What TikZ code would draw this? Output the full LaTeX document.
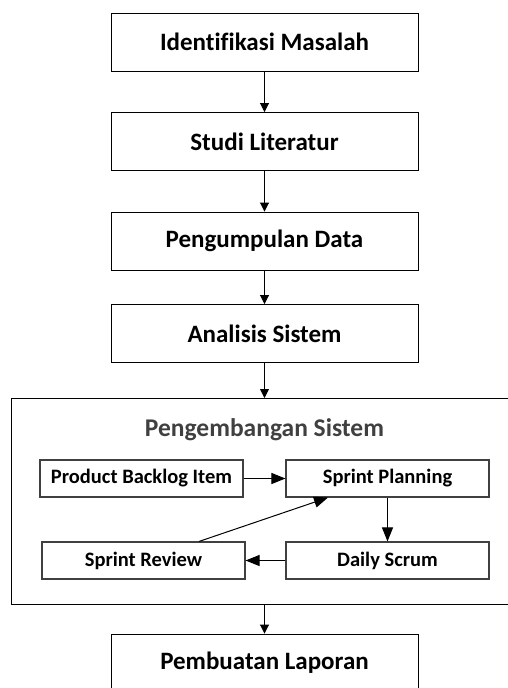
\documentclass[tikz,border=0pt]{standalone}
\usepackage{fontspec}
\setmainfont{Carlito}[Ligatures=NoCommon]
\usetikzlibrary{arrows.meta}
\begin{document}
\begin{tikzpicture}[x=1pt,y=-1pt,
  mainbox/.style={draw=black,line width=0.9pt,minimum width=307pt,minimum height=58pt,inner sep=0pt,font=\fontsize{25}{27}\selectfont\bfseries},
  subbox/.style={draw=black!75,line width=1.1pt,minimum width=203pt,minimum height=37pt,inner sep=0pt,font=\fontsize{20.5}{22}\selectfont\bfseries},
  mainarrow/.style={line width=0.9pt,-{Triangle[length=9pt,width=9pt]}},
  subarrow/.style={line width=1pt,-{Triangle[length=14pt,width=11pt]}}]
\useasboundingbox (0,0) rectangle (507,688);
\node[mainbox] (b1) at (264.5,42) {Identifikasi Masalah};
\node[mainbox] (b2) at (264.5,141.5) {Studi Literatur};
\node[mainbox] (b3) at (264.5,241) {Pengumpulan Data};
\node[mainbox] (b4) at (264.5,333.5) {Analisis Sistem};
\coordinate (ctop) at (264.5,398);
\coordinate (cbot) at (264.5,604);
\draw[line width=0.9pt] (510,398) -- (11,398) -- (11,604) -- (510,604);
\node[text=black!75,font=\fontsize{25.5}{27}\selectfont\bfseries] (title) at (264.5,430) {Pengembangan Sistem};
\node[subbox] (pbi) at (141.5,478.5) {Product Backlog Item};
\node[subbox] (sp) at (387.5,478.5) {Sprint Planning};
\node[subbox] (ds) at (387.5,560.5) {Daily Scrum};
\node[subbox] (sr) at (143.5,560.5) {Sprint Review};
\node[mainbox] (b6) at (264.5,663) {Pembuatan Laporan};
\draw[mainarrow] (b1) -- (b2);
\draw[mainarrow] (b2) -- (b3);
\draw[mainarrow] (b3) -- (b4);
\draw[mainarrow] (b4) -- (ctop);
\draw[mainarrow] (cbot) -- (b6);
\draw[subarrow] (pbi) -- (sp);
\draw[subarrow] (sp) -- (ds);
\draw[subarrow] (ds) -- (sr);
\draw[subarrow] (sr.north -| 199,0) -- (sp.south -| 328,0);
\end{tikzpicture}
\end{document}
